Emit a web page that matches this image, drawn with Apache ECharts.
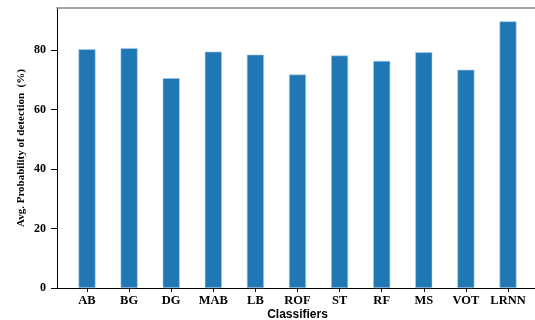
<!DOCTYPE html>
<html>
<head>
<meta charset="utf-8">
<script src="https://cdn.jsdelivr.net/npm/echarts@6/dist/echarts.min.js"></script>
<style>
  html, body { margin: 0; padding: 0; background: #fff; }
  #chart { width: 535px; height: 320px; }
</style>
</head>
<body>
<div id="chart"></div>
<script>
// Classifier names along the x axis
const classifiers = ['AB', 'BG', 'DG', 'MAB', 'LB', 'ROF', 'ST', 'RF', 'MS', 'VOT', 'LRNN'];
// Average probability of detection (%) per classifier
const detection = [80.3, 80.7, 70.6, 79.5, 78.5, 71.8, 78.2, 76.4, 79.3, 73.4, 89.7];
// Y axis tick labels
const yTicks = [0, 20, 40, 60, 80];

const yMax = Math.max(...detection) * 1.05;
const serif = 'Liberation Serif';

const chart = echarts.init(document.getElementById('chart'));
chart.setOption({
  animation: false,
  backgroundColor: '#fff',
  grid: [
    // frame (spines)
    { left: 57, top: 8, width: 490, height: 280, outerBoundsMode: 'none', containLabel: false },
    // bars area, slot width matches the category spacing
    { left: 65.95, top: 8, width: 463.1, height: 280, outerBoundsMode: 'none', containLabel: false }
  ],
  xAxis: [
    {
      gridIndex: 0, type: 'value', min: 0, max: 1, position: 'bottom',
      axisLine: { show: true, lineStyle: { color: '#000', width: 1 } },
      axisTick: { show: false }, axisLabel: { show: false }, splitLine: { show: false }
    },
    {
      gridIndex: 0, type: 'value', min: 0, max: 1, position: 'top',
      axisLine: { show: true, lineStyle: { color: '#888', width: 1.5 } },
      axisTick: { show: false }, axisLabel: { show: false }, splitLine: { show: false }
    },
    {
      gridIndex: 1, type: 'category', data: classifiers, position: 'bottom',
      axisLine: { show: false },
      axisTick: { show: true, alignWithLabel: true, length: 4, lineStyle: { color: '#000' } },
      axisLabel: { fontFamily: serif, fontWeight: 'bold', fontSize: 12.5, color: '#000', margin: 6, interval: 0 },
      name: 'Classifiers', nameLocation: 'middle', nameGap: 21, nameMoveOverlap: false,
      nameTextStyle: { fontFamily: 'Liberation Sans', fontWeight: 'bold', fontSize: 12, color: '#000' }
    }
  ],
  yAxis: [
    {
      gridIndex: 0, type: 'value', min: 0, max: yMax,
      axisLine: { show: true, lineStyle: { color: '#000', width: 1 } },
      axisTick: { show: true, length: 6, customValues: yTicks, lineStyle: { color: '#000' } },
      axisLabel: { customValues: yTicks, fontFamily: serif, fontWeight: 'bold', fontSize: 12, color: '#000', margin: 11 },
      splitLine: { show: false },
      name: 'Avg. Probability of detection  (%)', nameLocation: 'middle', nameGap: 30, nameMoveOverlap: false,
      nameTextStyle: { fontFamily: serif, fontWeight: 'bold', fontSize: 11, color: '#000' }
    },
    {
      gridIndex: 1, type: 'value', min: 0, max: yMax, show: false, splitLine: { show: false }
    }
  ],
  series: [
    {
      type: 'bar',
      xAxisIndex: 2,
      yAxisIndex: 1,
      data: detection,
      barWidth: 17,
      itemStyle: { color: '#1f77b4', borderColor: '#a9cbe6', borderWidth: 0.6 }
    }
  ]
});
</script>
</body>
</html>
